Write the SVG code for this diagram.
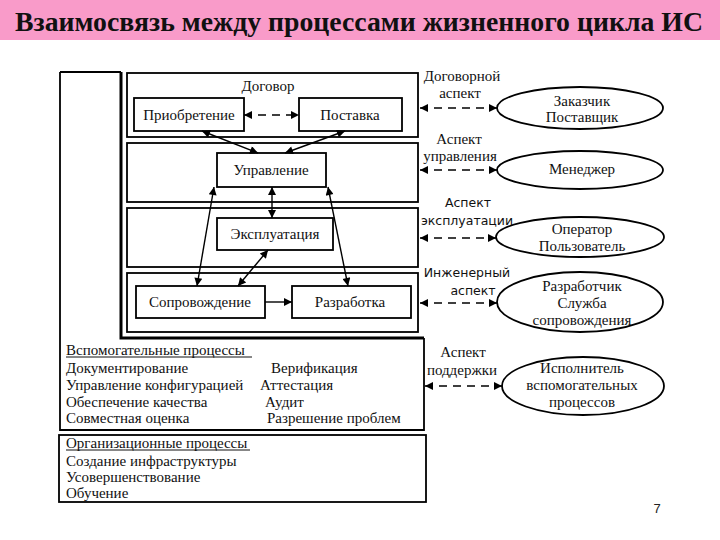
<svg xmlns="http://www.w3.org/2000/svg" width="720" height="540" viewBox="0 0 720 540">
<defs>
<marker id="ah" viewBox="0 0 10 10" refX="10" refY="5" markerWidth="12" markerHeight="8" markerUnits="userSpaceOnUse" orient="auto-start-reverse">
<path d="M0,0 L10,5 L0,10 z" fill="#000"/>
</marker>
<style>
.t{font-family:"Liberation Serif","DejaVu Serif",serif;font-size:15px;fill:#111}
.s{font-family:"DejaVu Sans","Liberation Sans",sans-serif;font-size:12.5px;fill:#111}
.m{text-anchor:middle}
.box{fill:#fff;stroke:#000;stroke-width:1.8}
.frame{fill:none;stroke:#000;stroke-width:1.8}
.ell{fill:#fff;stroke:#000;stroke-width:1.8}
.ln{fill:none;stroke:#000;stroke-width:1.4}
.both{marker-start:url(#ah);marker-end:url(#ah)}
.one{marker-end:url(#ah)}
.d{stroke-dasharray:8,6}
</style>
</defs>
<rect x="0" y="0" width="720" height="40" fill="#F99BC9"/>
<text x="15" y="31" font-family="'Liberation Serif',serif" font-weight="bold" font-size="28" textLength="688" lengthAdjust="spacingAndGlyphs" fill="#111">Взаимосвязь между процессами жизненного цикла ИС</text>

<g id="outer-frame">
<path class="frame" d="M60,72 H121 M60,72 V430 H424 V338"/>
<path fill="none" stroke="#000" stroke-width="3" d="M121,72 V338 H424"/>
</g>

<g id="dogovor">
<rect class="box" x="127" y="73" width="291" height="64"/>
<text class="t m" x="268" y="91">Договор</text>
</g>
<g id="upravlenie-area"><rect class="box" x="127" y="143" width="291" height="59"/></g>
<g id="ekspl-area"><rect class="box" x="127" y="208" width="291" height="59"/></g>
<g id="razrab-area"><rect class="box" x="127" y="273" width="291" height="59"/></g>

<g id="priobretenie"><rect class="box" x="134" y="98" width="110" height="33"/><text class="t m" x="189" y="120">Приобретение</text></g>
<g id="postavka"><rect class="box" x="299" y="98" width="103" height="33"/><text class="t m" x="350" y="120">Поставка</text></g>
<g id="upravlenie"><rect class="box" x="217" y="153" width="109" height="34"/><text class="t m" x="271" y="175">Управление</text></g>
<g id="ekspluataciya"><rect class="box" x="217" y="218" width="116" height="32"/><text class="t m" x="275" y="239">Эксплуатация</text></g>
<g id="soprovozhdenie"><rect class="box" x="136" y="286" width="129" height="32"/><text class="t m" x="200" y="307">Сопровождение</text></g>
<g id="razrabotka"><rect class="box" x="292" y="286" width="119" height="32"/><text class="t m" x="350" y="307">Разработка</text></g>

<g id="vspomogatelnye">
<text class="t" x="66" y="355">Вспомогательные процессы</text>
<line x1="66" y1="357" x2="252" y2="357" stroke="#111" stroke-width="1"/>
<text class="t" x="66" y="373">Документирование</text>
<text class="t" x="66" y="390">Управление конфигурацией</text>
<text class="t" x="66" y="407">Обеспечение качества</text>
<text class="t" x="66" y="423">Совместная оценка</text>
<text class="t" x="271" y="373">Верификация</text>
<text class="t" x="260" y="390">Аттестация</text>
<text class="t" x="265" y="407">Аудит</text>
<text class="t" x="267" y="423">Разрешение проблем</text>
</g>

<g id="organizacionnye">
<rect class="box" x="59" y="435" width="367" height="67"/>
<text class="t" x="66" y="448">Организационные процессы</text>
<line x1="66" y1="450" x2="250" y2="450" stroke="#111" stroke-width="1"/>
<text class="t" x="66" y="466">Создание инфраструктуры</text>
<text class="t" x="66" y="482">Усовершенствование</text>
<text class="t" x="66" y="498">Обучение</text>
</g>

<g id="e-zakazchik"><ellipse class="ell" cx="580" cy="108" rx="83" ry="21"/><text class="t m" x="582" y="106">Заказчик</text><text class="t m" x="582" y="122">Поставщик</text></g>
<g id="e-menedzher"><ellipse class="ell" cx="580" cy="170" rx="83" ry="19"/><text class="t m" x="582" y="174">Менеджер</text></g>
<g id="e-operator"><ellipse class="ell" cx="580" cy="237" rx="84" ry="20"/><text class="t m" x="582" y="234">Оператор</text><text class="t m" x="582" y="251">Пользователь</text></g>
<g id="e-razrabotchik"><ellipse class="ell" cx="580" cy="302" rx="83" ry="30"/><text class="t m" x="582" y="291">Разработчик</text><text class="t m" x="582" y="308">Служба</text><text class="t m" x="582" y="325">сопровождения</text></g>
<g id="e-ispolnitel"><ellipse class="ell" cx="583" cy="386" rx="81" ry="29"/><text class="t m" x="582" y="373">Исполнитель</text><text class="t m" x="582" y="390">вспомогательных</text><text class="t m" x="582" y="407">процессов</text></g>

<g id="aspect-labels">
<text class="t m" x="462" y="81">Договорной</text>
<text class="t m" x="460" y="98">аспект</text>
<text class="t m" x="459" y="144">Аспект</text>
<text class="t m" x="460" y="161">управления</text>
<text class="s m" x="468" y="207">Аспект</text>
<text class="s m" x="467" y="225">эксплуатации</text>
<text class="s m" x="467" y="277">Инженерный</text>
<text class="s m" x="473" y="295">аспект</text>
<text class="t m" x="463" y="357">Аспект</text>
<text class="t m" x="462" y="375">поддержки</text>
</g>

<g id="connectors">
<line class="ln both d" x1="244" y1="115" x2="299" y2="115"/>
<line class="ln both" x1="202" y1="131" x2="258" y2="153"/>
<line class="ln both" x1="345" y1="131" x2="285" y2="153"/>
<line class="ln both" x1="214" y1="187" x2="197" y2="286"/>
<line class="ln both" x1="272" y1="187" x2="272" y2="218"/>
<line class="ln both" x1="328" y1="187" x2="348" y2="286"/>
<line class="ln both" x1="268" y1="250" x2="238" y2="286"/>
<line class="ln one" x1="265" y1="302" x2="292" y2="302"/>
<line class="ln both d" x1="420" y1="108" x2="497" y2="108"/>
<line class="ln both d" x1="420" y1="170" x2="497" y2="170"/>
<line class="ln both d" x1="420" y1="238" x2="496" y2="238"/>
<line class="ln both d" x1="420" y1="303" x2="497" y2="303"/>
<line class="ln both d" x1="425" y1="386" x2="502" y2="386"/>
</g>

<text x="657" y="513" font-family="'Liberation Sans',sans-serif" font-size="13" fill="#222" text-anchor="middle">7</text>
</svg>
